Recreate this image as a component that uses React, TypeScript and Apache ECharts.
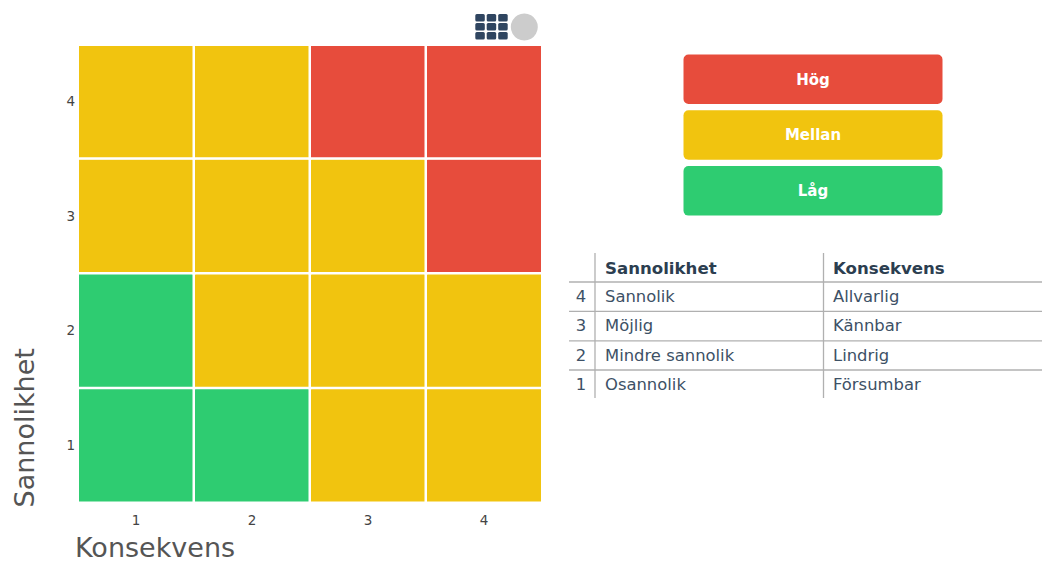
import React, { useEffect, useRef } from "react";
import * as echarts from "echarts";

const xCategories = ["1", "2", "3", "4"];
const yCategories = ["1", "2", "3", "4"];
const xName = "Konsekvens";
const yName = "Sannolikhet";
// rows from likelihood 1 to 4, columns from consequence 1 to 4; 0 low, 1 medium, 2 high
const riskRow1 = [0, 0, 1, 1];
const riskRow2 = [0, 1, 1, 1];
const riskRow3 = [1, 1, 1, 2];
const riskRow4 = [1, 1, 2, 2];
const riskRows = [riskRow1, riskRow2, riskRow3, riskRow4];
const levelColors = ["#2ecc71", "#f1c40f", "#e74c3c"];
const legendLabels = ["Hög", "Mellan", "Låg"];
const legendColors = ["#e74c3c", "#f1c40f", "#2ecc71"];
const tableHeaders = ["Sannolikhet", "Konsekvens"];
const tableIndex = ["4", "3", "2", "1"];
const likelihoodNames = ["Sannolik", "Möjlig", "Mindre sannolik", "Osannolik"];
const consequenceNames = ["Allvarlig", "Kännbar", "Lindrig", "Försumbar"];

const FONT = "'DejaVu Sans', Inter, sans-serif";
const DARK = "#2c3e50";

export default function App() {
  const ref = useRef<HTMLDivElement>(null);
  useEffect(() => {
    const chart = echarts.init(ref.current!, undefined, { renderer: "svg" });
    const data: any[] = [];
    riskRows.forEach((row, y) => row.forEach((lvl, x) => data.push([x, y, lvl])));
    const graphic: any[] = [];
    // clean top edge of the matrix
    graphic.push({ type: "rect", z: 100, shape: { x: 76, y: 42, width: 468, height: 4 }, style: { fill: "#ffffff" } });
    // top-right icons
    [14, 23, 32].forEach((y) =>
      [475.3, 486.7, 498.2].forEach((x) =>
        graphic.push({ type: "rect", shape: { x, y, width: 9.5, height: 7.4, r: 1.5 }, style: { fill: "#2f4560" } })
      )
    );
    graphic.push({ type: "circle", shape: { cx: 524.3, cy: 27, r: 13.5 }, style: { fill: "#cccccc" } });
    // legend buttons
    legendLabels.forEach((label, i) => {
      const y = 54.5 + i * 55.8;
      graphic.push({ type: "rect", shape: { x: 683.5, y, width: 259, height: 49.5, r: 5 }, style: { fill: legendColors[i] } });
      graphic.push({
        type: "text", x: 813, y: y + 25,
        style: { text: label, fill: "#ffffff", font: `700 15px ${FONT}`, textAlign: "center", textVerticalAlign: "middle" },
      });
    });
    // table
    const lineStyle = { stroke: "#b0b0b0", lineWidth: 1.3 };
    [282, 311.3, 340.8, 370].forEach((y) =>
      graphic.push({ type: "line", shape: { x1: 569, y1: y, x2: 1042, y2: y }, style: lineStyle })
    );
    [595, 823.5].forEach((x) =>
      graphic.push({ type: "line", shape: { x1: x, y1: 253, x2: x, y2: 398 }, style: lineStyle })
    );
    const colX = [605, 833];
    tableHeaders.forEach((h, i) =>
      graphic.push({
        type: "text", x: colX[i], y: 268,
        style: { text: h, fill: DARK, font: `700 16.6px ${FONT}`, textAlign: "left", textVerticalAlign: "middle" },
      })
    );
    const rowY = [296.5, 325.5, 355, 384];
    const cellStyle = (text: string, align: string) => ({
      text, fill: "#3d5166", font: `400 16.4px ${FONT}`, textAlign: align, textVerticalAlign: "middle",
    });
    tableIndex.forEach((t, i) => {
      graphic.push({ type: "text", x: 581, y: rowY[i], style: cellStyle(t, "center") });
      graphic.push({ type: "text", x: colX[0], y: rowY[i], style: cellStyle(likelihoodNames[i], "left") });
      graphic.push({ type: "text", x: colX[1], y: rowY[i], style: cellStyle(consequenceNames[i], "left") });
    });

    chart.setOption({
      animation: false,
      backgroundColor: "#ffffff",
      textStyle: { fontFamily: FONT },
      grid: { left: 78, top: 43.5, width: 464, height: 459 },
      visualMap: {
        show: false,
        type: "piecewise",
        dimension: 2,
        pieces: levelColors.map((color, i) => ({ value: i, color })),
      },
      xAxis: {
        type: "category",
        data: xCategories,
        name: xName,
        nameLocation: "start",
        nameGap: 0,
        nameTextStyle: { fontSize: 27, color: "#555555", align: "left", verticalAlign: "top", padding: [31, 0, 0, -3], fontFamily: FONT },
        axisLine: { show: false },
        axisTick: { show: false },
        splitLine: { show: false },
        axisLabel: { color: "#444444", fontSize: 13.5, margin: 10, fontFamily: FONT },
      },
      yAxis: {
        type: "category",
        data: yCategories,
        name: yName,
        nameLocation: "start",
        nameGap: 0,
        nameRotate: 90,
        nameTextStyle: { fontSize: 27, color: "#555555", align: "left", verticalAlign: "bottom", padding: [0, 0, 40, -5], fontFamily: FONT },
        axisLine: { show: false },
        axisTick: { show: false },
        splitLine: { show: false },
        axisLabel: { color: "#444444", fontSize: 13.5, margin: 3, fontFamily: FONT },
      },
      series: [
        {
          type: "heatmap",
          data,
          itemStyle: { borderColor: "#ffffff", borderWidth: 2.5 },
          emphasis: { disabled: true },
        },
      ],
      graphic,
    });
    return () => chart.dispose();
  }, []);
  return <div ref={ref} style={{ position: "fixed", left: 0, top: 0, width: 1042, height: 561 }} />;
}
